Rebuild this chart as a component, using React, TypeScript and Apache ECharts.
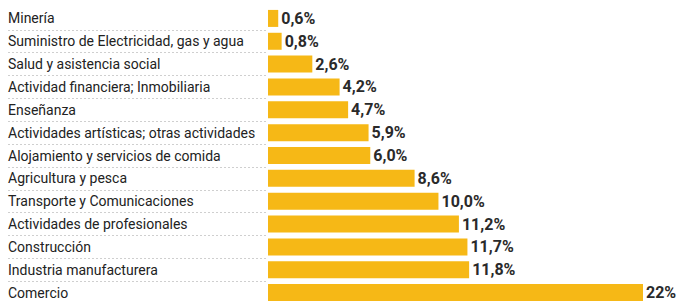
import React, { useEffect, useRef } from "react";
import * as echarts from "echarts";

const categories = [
  "Minería",
  "Suministro de Electricidad, gas y agua",
  "Salud y asistencia social",
  "Actividad financiera; Inmobiliaria",
  "Enseñanza",
  "Actividades artísticas; otras actividades",
  "Alojamiento y servicios de comida",
  "Agricultura y pesca",
  "Transporte y Comunicaciones",
  "Actividades de profesionales",
  "Construcción",
  "Industria manufacturera",
  "Comercio",
];
const values = [0.6, 0.8, 2.6, 4.2, 4.7, 5.9, 6.0, 8.6, 10.0, 11.2, 11.7, 11.8, 22];
const valueLabels = ["0,6%", "0,8%", "2,6%", "4,2%", "4,7%", "5,9%", "6,0%", "8,6%", "10,0%", "11,2%", "11,7%", "11,8%", "22%"];

export default function App() {
  const ref = useRef<HTMLDivElement>(null);
  useEffect(() => {
    if (!ref.current) return;
    const chart = echarts.init(ref.current, null, { renderer: "svg" });
    const font = "Roboto, 'Noto Sans', sans-serif";
    chart.setOption({
      animation: false,
      backgroundColor: "#ffffff",
      grid: [
        { left: 268, top: 7, width: 375, height: 301, containLabel: false },
        { left: 8, top: 7, width: 258, height: 301, containLabel: false },
      ],
      xAxis: [
        { type: "value", gridIndex: 0, min: 0, max: 22, show: false },
        { type: "value", gridIndex: 1, min: 0, max: 1, show: false },
      ],
      yAxis: [
        {
          type: "category",
          gridIndex: 0,
          data: categories,
          inverse: true,
          axisLine: { show: false },
          axisTick: { show: false },
          splitLine: { show: false },
          axisLabel: {
            align: "left",
            margin: 260,
            color: "#222222",
            fontSize: 14,
            fontFamily: font,
          },
        },
        {
          type: "category",
          gridIndex: 1,
          data: categories,
          inverse: true,
          axisLine: { show: false },
          axisTick: { show: false },
          axisLabel: { show: false },
          splitLine: {
            show: true,
            interval: (index: number) => index !== 0,
            lineStyle: { color: "#cfcfcf", type: [2, 2], width: 1 },
          },
        },
      ],
      series: [
        {
          type: "bar",
          xAxisIndex: 0,
          yAxisIndex: 0,
          data: values,
          barWidth: 17,
          itemStyle: { color: "#F6B816" },
          label: {
            show: true,
            position: "right",
            distance: 3,
            color: "#2a2a2a",
            fontSize: 16,
            fontWeight: "bold",
            fontFamily: font,
            formatter: (p: any) => valueLabels[p.dataIndex],
          },
        },
      ],
    });
    return () => chart.dispose();
  }, []);
  return <div ref={ref} style={{ width: 689, height: 304, position: "absolute", left: 0, top: 0 }} />;
}
